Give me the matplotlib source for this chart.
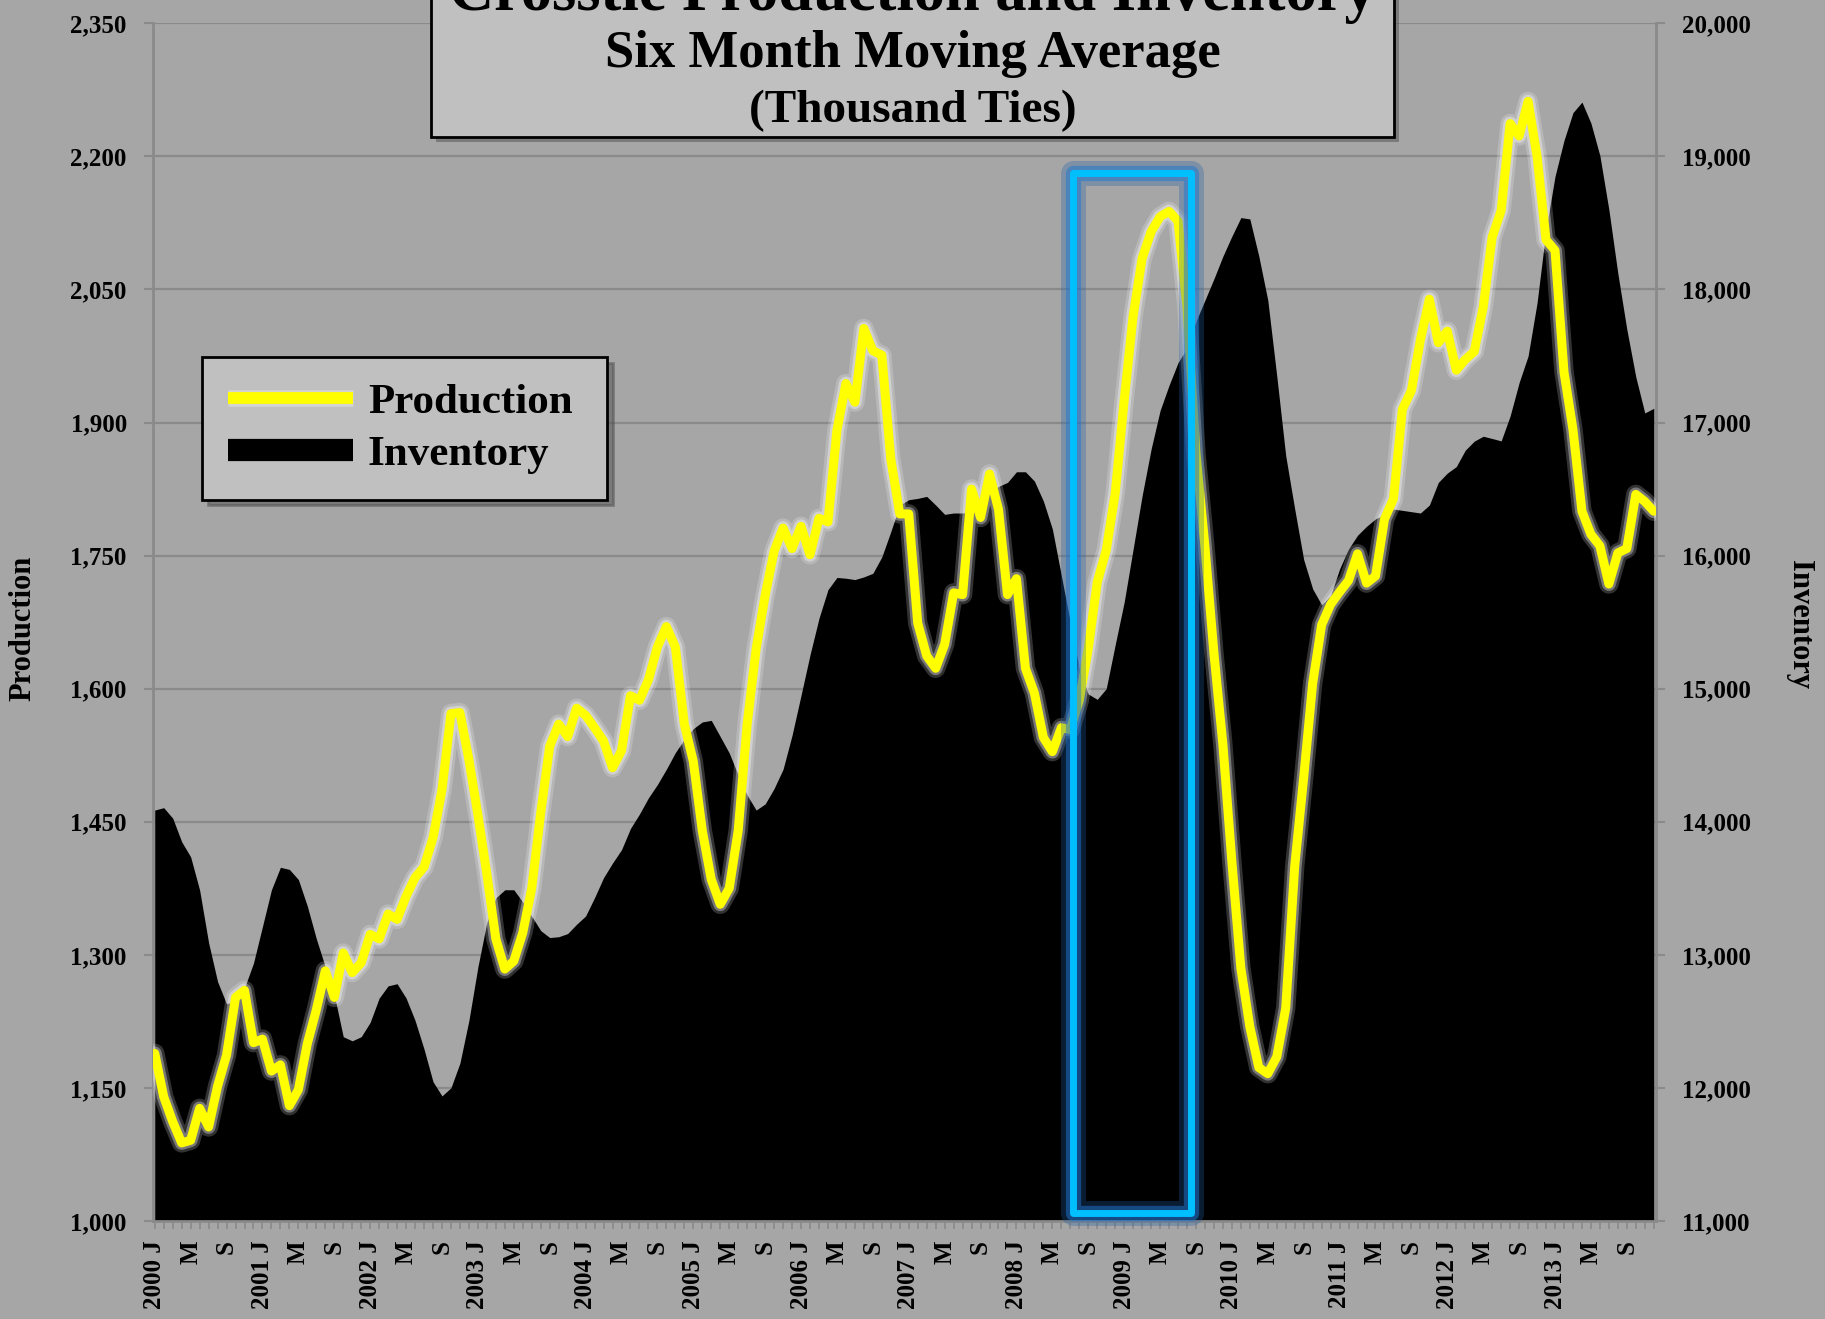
import matplotlib.pyplot as plt
import matplotlib.patheffects as pe
from matplotlib.patches import Rectangle
from matplotlib.lines import Line2D
from matplotlib.ticker import FuncFormatter

# monthly six-month moving averages, Jan 2000 .. Dec 2013 (thousand ties)
production = [
    1189, 1140, 1112, 1088, 1091, 1127, 1106, 1152, 1187, 1252, 1260, 1201,  # 2000
    1205, 1169, 1176, 1130, 1148, 1200, 1238, 1282, 1252, 1302, 1280, 1291,  # 2001
    1323, 1318, 1346, 1340, 1366, 1387, 1399, 1432, 1486, 1572, 1573, 1520,  # 2002
    1458, 1391, 1318, 1284, 1293, 1325, 1375, 1460, 1535, 1560, 1546, 1578,  # 2003
    1570, 1556, 1541, 1511, 1530, 1592, 1587, 1610, 1647, 1670, 1647, 1560,  # 2004
    1518, 1440, 1385, 1357, 1375, 1440, 1560, 1645, 1705, 1755, 1781, 1758,  # 2005
    1783, 1751, 1792, 1788, 1891, 1944, 1923, 2006, 1981, 1976, 1859, 1797,  # 2006
    1797, 1674, 1637, 1623, 1650, 1708, 1706, 1825, 1793, 1842, 1802, 1706,  # 2007
    1724, 1623, 1595, 1545, 1529, 1556, 1554, 1587, 1645, 1720, 1756, 1820,  # 2008
    1925, 2020, 2085, 2115, 2132, 2138, 2127, 2030, 1865, 1760, 1640, 1537,  # 2009
    1405, 1285, 1219, 1173, 1166, 1185, 1240, 1400, 1500, 1606, 1672, 1695,  # 2010
    1709, 1722, 1752, 1719, 1727, 1791, 1814, 1915, 1936, 1993, 2039, 1990,  # 2011
    2003, 1959, 1971, 1980, 2030, 2109, 2139, 2237, 2223, 2262, 2200, 2106,  # 2012
    2094, 1957, 1892, 1800, 1774, 1761, 1718, 1753, 1758, 1819, 1811, 1800,  # 2013
]

inventory = [
    14088, 14106, 14027, 13850, 13736, 13487, 13091, 12799, 12631, 12659, 12752, 12938,  # 2000
    13213, 13489, 13658, 13642, 13566, 13366, 13121, 12909, 12700, 12385, 12354, 12385,  # 2001
    12493, 12675, 12767, 12783, 12675, 12507, 12292, 12047, 11940, 12001, 12187, 12507,  # 2002
    12909, 13244, 13428, 13489, 13489, 13397, 13290, 13182, 13130, 13136, 13160, 13230,  # 2003
    13292, 13430, 13580, 13690, 13790, 13950, 14058, 14180, 14280, 14395, 14520, 14620,  # 2004
    14700, 14750, 14762, 14640, 14517, 14350, 14200, 14088, 14134, 14250, 14395, 14650,  # 2005
    14950, 15254, 15529, 15744, 15836, 15830, 15820, 15840, 15867, 15990, 16180, 16380,  # 2006
    16420, 16430, 16445, 16380, 16310, 16320, 16320, 16330, 16340, 16480, 16520, 16550,  # 2007
    16630, 16630, 16560, 16410, 16200, 15850, 15500, 15150, 14960, 14920, 15000, 15330,  # 2008
    15650, 16050, 16450, 16800, 17090, 17280, 17450, 17560, 17760, 17920, 18080, 18250,  # 2009
    18400, 18540, 18530, 18250, 17920, 17350, 16750, 16350, 15970, 15750, 15630, 15700,  # 2010
    15900, 16050, 16153, 16220, 16276, 16310, 16350, 16340, 16330, 16320, 16380, 16550,  # 2011
    16620, 16669, 16792, 16860, 16897, 16880, 16862, 17050, 17300, 17500, 17900, 18450,  # 2012
    18850, 19120, 19329, 19408, 19250, 19005, 18600, 18120, 17700, 17343, 17072, 17107,  # 2013
]

first_year = 2000
month_letters = {0: 'J', 4: 'M', 8: 'S'}
highlight_start = 102.3   # Sep 2008 .. Sep 2009 box
highlight_end = 115.5

plt.rcParams['font.family'] = ['Liberation Serif', 'DejaVu Serif']
plt.rcParams['font.weight'] = 'bold'

BG = '#a6a6a6'
GRID = '#8a8a8a'
W, H = 1825, 1319

fig = plt.figure(figsize=(W / 100, H / 100), dpi=100, facecolor=BG)
ax = fig.add_axes([152.5 / W, 1 - 1221 / H, (1656 - 152.5) / W, (1221 - 23.3) / H])
ax2 = ax.twinx()
ax.set_zorder(ax2.get_zorder() + 1)
ax.patch.set_visible(False)
ax2.set_facecolor(BG)

months = list(range(len(production)))

# inventory: black area on right axis
ax2.fill_between(months, 11000, inventory, color='black', lw=0, zorder=2)
ax2.set_ylim(11000, 20000)
ax2.set_yticks(range(11000, 20001, 1000))
ax2.yaxis.grid(True, color=GRID, lw=1.6)
ax2.set_axisbelow(True)

# production: yellow glowing line on left axis
glow = [pe.Stroke(linewidth=14, foreground='white', alpha=0.2),
        pe.Stroke(linewidth=10, foreground='white', alpha=0.35),
        pe.Normal()]
ax.plot(months, production, color='#ffff00', lw=6.5, solid_joinstyle='round',
        solid_capstyle='round', path_effects=glow, zorder=3)
ax.set_ylim(1000, 2350)
ax.set_yticks(range(1000, 2351, 150))
ax.set_xlim(-0.25, 167.25)

fmt = FuncFormatter(lambda v, p: f'{v:,.0f}')
ax.yaxis.set_major_formatter(fmt)
ax2.yaxis.set_major_formatter(fmt)

labels = []
for i in months:
    m = i % 12
    if m == 0:
        labels.append(f'{first_year + i // 12} J')
    else:
        labels.append(month_letters.get(m, ''))
ax.set_xticks(months)
ax.set_xticklabels(labels, rotation=90, fontsize=18, fontweight='bold')

ax.tick_params(axis='x', direction='out', length=6, width=1.2, color=GRID, pad=8)
ax.tick_params(axis='y', direction='out', length=6.5, width=1.5, color=GRID,
               pad=12, labelsize=18)
ax2.tick_params(axis='y', direction='out', length=6.5, width=1.5, color=GRID,
                pad=12, labelsize=18)

for s in ['top', 'right']:
    ax.spines[s].set_visible(False)
for s in ['top', 'left', 'bottom']:
    ax2.spines[s].set_visible(False)
for sp in [ax.spines['left'], ax.spines['bottom'], ax2.spines['right']]:
    sp.set_color(GRID)
    sp.set_linewidth(2)

fig.text(23 / W, 1 - 628 / H, 'Production', rotation=90, ha='center', va='center',
         fontsize=22, fontweight='bold')
fig.text(1800 / W, 1 - 625 / H, 'Inventory', rotation=270, ha='center', va='center',
         fontsize=22, fontweight='bold')

# highlight box around the 2008-2009 production surge
box_glow = [pe.Stroke(linewidth=18, foreground='#1f5fa8', alpha=0.3),
            pe.Stroke(linewidth=11, foreground='#1f78d0', alpha=0.5),
            pe.Normal()]
box = Rectangle((highlight_start, 1009), highlight_end - highlight_start, 2181 - 1009,
                fill=False, edgecolor='#00bfff', lw=5, joinstyle='round',
                clip_on=False, zorder=6, path_effects=box_glow)
ax.add_patch(box)

# legend
handles = [Line2D([], [], color='#ffff00', lw=8.5, solid_capstyle='butt',
                  path_effects=[pe.Stroke(linewidth=12, foreground='white', alpha=0.3),
                                pe.Normal()]),
           Line2D([], [], color='black', lw=16, solid_capstyle='butt')]
leg = ax.legend(handles, ['Production', 'Inventory'], loc='upper left',
                bbox_to_anchor=(202 / W, 1 - 357 / H, (607 - 202) / W, 0),
                bbox_transform=fig.transFigure, mode='expand', borderaxespad=0,
                fontsize=31, handlelength=2.9, handletextpad=0.35, borderpad=0.6,
                labelspacing=0.3, fancybox=False, framealpha=1,
                facecolor='#c0c0c0', edgecolor='black',
                shadow={'ox': 4, 'oy': -4, 'color': '#505050', 'alpha': 0.5})
leg.get_frame().set_linewidth(2)
leg.set_zorder(10)

# title box at the top
fig.patches.append(Rectangle((436 / W, 1 - 142 / H), (1394 - 431) / W, 0.2,
                             transform=fig.transFigure, facecolor='#505050',
                             alpha=0.5, edgecolor='none', zorder=5))
fig.patches.append(Rectangle((431 / W, 1 - 137 / H), (1394 - 431) / W, 0.2,
                             transform=fig.transFigure, facecolor='#c0c0c0',
                             edgecolor='black', lw=2, zorder=5))
fig.text(0.5, 1 - 10 / H, 'Crosstie Production and Inventory', ha='center',
         va='baseline', fontsize=45, fontweight='bold', zorder=6)
fig.text(0.5, 1 - 67 / H, 'Six Month Moving Average', ha='center',
         va='baseline', fontsize=38, fontweight='bold', zorder=6)
fig.text(0.5, 1 - 122 / H, '(Thousand Ties)', ha='center',
         va='baseline', fontsize=34, fontweight='bold', zorder=6)

fig.savefig('out.png', dpi=100, facecolor=BG)
